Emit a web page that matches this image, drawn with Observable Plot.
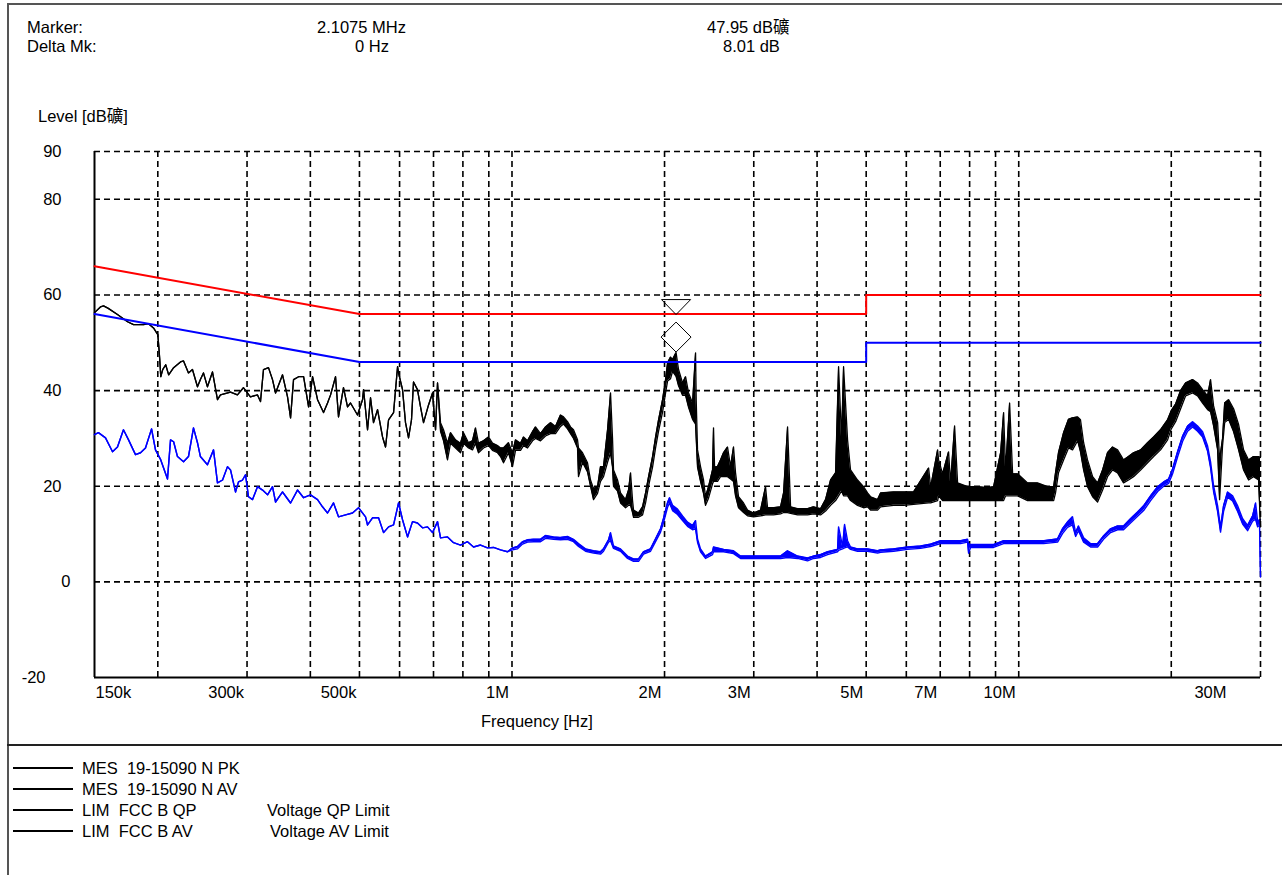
<!DOCTYPE html>
<html>
<head>
<meta charset="utf-8">
<script src="https://cdn.jsdelivr.net/npm/d3@7"></script>
<script src="https://cdn.jsdelivr.net/npm/@observablehq/plot@0.6"></script>
<style>
  body { margin: 0; background: #fff; }
  #wrap { position: relative; width: 1282px; height: 875px; overflow: hidden;
          font-family: "Liberation Sans", Arial, "Noto Sans CJK SC", sans-serif; font-size: 16.5px; color: #000; }
  .t { position: absolute; white-space: pre; line-height: 1; }
  .bar { position: absolute; }
</style>
</head>
<body>
<div id="wrap"></div>
<script>
// ---------- data (frequency in MHz, level in dBµV) ----------
const gridFreqs = [0.2,0.3,0.4,0.5,0.6,0.7,0.8,0.9,1,2,3,4,5,6,7,8,9,10,20,30];
const gridLevels = [0,20,40,60,80,90];
const xTickValues = [0.3,0.5,1,2,3,5,7,10];
const xTickLabels = ["300k","500k","1M","2M","3M","5M","7M","10M"];
const yTickValues = [90,80,60,40,20];

// FCC class B limits
const qpLimit = [[0.15,66],[0.5,56],[5,56],[5,60],[30,60]];
const avLimit = [[0.15,56],[0.5,46],[5,46],[5,50],[30,50]];

// Marker
const marker = [[2.1075, 47.95]];

// Peak trace: [freq, low, high]
const pk = [
[0.150,56.3,56.3],[0.1541,57.5,57.5],[0.1563,57.7,57.7],[0.1597,57.2,57.2],[0.1665,55.9,55.9],[0.1743,54.4,54.4],
[0.1791,53.8,53.8],[0.1875,53.8,53.8],[0.1917,54.0,54.0],[0.1961,53.1,53.1],[0.2000,51.7,51.7],[0.2009,49.2,49.2],
[0.2018,46.4,46.4],[0.2027,42.9,42.9],[0.2045,44.4,44.4],[0.2073,45.4,45.4],[0.2101,43.3,43.3],[0.2149,44.8,44.8],
[0.2217,46.0,46.0],[0.2248,46.2,46.2],[0.2299,43.7,43.7],[0.2341,44.4,44.4],[0.2395,40.8,40.8],[0.2427,42.3,42.3],
[0.2461,43.7,43.7],[0.2506,40.8,40.8],[0.2564,43.9,43.9],[0.2623,38.1,38.1],[0.2659,39.1,39.1],[0.2783,39.7,39.7],
[0.2872,39.1,39.1],[0.2951,40.6,40.6],[0.3046,38.7,38.7],[0.3146,39.1,39.1],[0.3189,37.7,37.7],[0.3233,44.4,44.4],
[0.3307,44.8,44.8],[0.3368,42.3,42.3],[0.3415,39.5,39.5],[0.3525,43.3,43.3],[0.3606,38.7,38.7],[0.3656,34.3,34.3],
[0.3706,42.3,42.3],[0.3792,42.9,42.9],[0.3879,42.9,42.9],[0.3968,36.6,36.6],[0.4040,42.9,42.9],[0.4133,38.1,38.1],
[0.4247,35.4,35.4],[0.4325,37.4,37.4],[0.4385,39.1,39.1],[0.4485,42.9,42.9],[0.4546,34.5,34.5],
[0.4650,40.6,40.6],[0.4736,36.6,36.6],[0.4801,37.4,37.4],[0.4956,34.9,34.9],[0.5070,38.1,38.1],[0.5094,40.2,40.2],
[0.5187,31.8,31.8],[0.5258,38.5,38.5],[0.5330,33.3,33.3],[0.5428,36.0,36.0],[0.5553,30.3,30.3],[0.5629,28.2,28.2],
[0.5707,33.9,33.9],[0.5838,35.4,35.4],[0.5945,45.0,45.0],[0.5972,43.7,43.7],[0.6081,40.2,40.2],[0.6164,33.3,33.3],
[0.6249,30.1,30.1],[0.6334,33.9,33.9],[0.6392,41.8,41.8],[0.6508,40.2,40.2],[0.6599,36.6,36.6],[0.6690,33.3,33.3],
[0.6844,37.0,37.0],[0.6969,39.5,39.5],[0.7065,31.8,31.8],[0.7129,41.6,41.6],
[0.7227,31.5,33.3],[0.7326,29.5,31.8],[0.7460,25.5,29.0],[0.7563,29.0,31.2],[0.7736,28.0,29.7],[0.7914,27.0,29.0],
[0.8023,29.0,31.2],[0.8207,28.0,29.1],[0.8357,27.6,29.5],[0.8472,29.0,32.2],[0.8588,27.0,29.0],[0.8786,28.0,29.5],
[0.8988,28.5,30.3],[0.9152,27.5,29.0],[0.9363,27.0,28.5],[0.9492,26.2,28.0],[0.9622,24.9,28.0],[0.9843,27.0,29.1],
[1.0023,24.1,27.0],[1.0161,27.5,29.7],[1.0395,27.5,29.0],[1.0537,28.5,30.3],[1.0731,28.0,29.5],[1.0977,29.5,31.4],
[1.1127,30.0,32.4],[1.1384,29.5,31.0],[1.1645,30.5,32.4],[1.1913,31.0,33.3],[1.2186,31.0,32.5],[1.2466,32.5,34.9],
[1.2638,33.0,34.5],[1.2870,32.0,33.5],[1.3046,31.0,32.4],[1.3225,30.0,31.8],[1.3468,28.0,29.7],[1.3529,22.0,28.0],
[1.3777,25.0,27.0],[1.4094,23.0,24.9],[1.4288,20.0,21.3],[1.4483,17.2,19.5],[1.4750,18.5,19.9],[1.4951,21.0,24.1],
[1.5158,22.0,24.1],[1.5436,25.0,31.8],[1.5648,27.0,39.5],[1.5790,24.0,30.0],[1.5862,20.0,23.4],[1.6154,19.0,21.3],
[1.6376,16.5,18.6],[1.6752,15.5,17.2],[1.6983,16.0,19.2],[1.7138,16.0,22.8],[1.7294,14.5,17.0],[1.7373,13.5,15.0],
[1.7772,13.5,14.4],[1.8099,14.0,15.7],[1.8348,16.5,18.6],[1.8600,20.0,22.0],[1.8940,24.0,26.2],[1.9201,28.0,30.3],
[1.9464,31.5,33.9],[1.9821,35.5,38.1],[2.0094,39.5,42.3],[2.0277,42.0,45.8],[2.0555,42.5,47.0],[2.0742,44.0,46.5],
[2.1075,43.0,47.95],[2.1315,41.0,44.4],[2.1706,39.0,41.6],[2.2004,39.0,42.9],[2.2306,36.5,39.5],[2.2716,34.0,37.4],
[2.3027,33.0,47.9],[2.3096,30.0,38.0],[2.3235,24.0,27.6],[2.3553,21.0,24.1],[2.3877,18.5,21.3],[2.4095,16.0,17.8],
[2.4425,17.5,19.9],[2.4873,20.5,23.4],[2.4986,21.0,32.2],[2.5105,21.0,24.0],[2.5445,21.0,24.1],[2.5794,22.0,25.5],
[2.6148,22.0,27.0],[2.6628,22.0,28.2],[2.6994,21.5,24.1],[2.7363,21.0,28.2],[2.7614,18.0,22.8],[2.7993,15.5,17.8],
[2.8638,14.5,16.5],[2.9162,13.8,15.0],[2.9972,13.6,14.4],[3.0939,13.8,15.0],[3.1650,14.0,19.9],[3.1938,14.0,15.5],
[3.2823,14.0,15.5],[3.3884,14.2,15.7],[3.4349,14.5,18.6],[3.4980,14.5,32.4],[3.5460,14.3,15.7],[3.6603,14.0,15.3],
[3.8306,14.0,15.3],[3.9364,14.2,15.7],[4.0638,14.0,15.3],[4.1572,14.8,17.2],[4.2529,16.0,21.3],[4.3510,17.0,22.8],
[4.4103,18.0,45.0],[4.4708,19.0,30.0],[4.5116,18.0,45.0],[4.5940,18.0,29.7],[4.6570,17.0,23.4],[4.8075,16.0,21.3],
[4.9402,15.5,19.9],[5.031,15.7,18.6],[5.1008,15.0,17.8],[5.2656,15.0,17.2],[5.339,15.7,18.6],[5.663,16.0,18.8],
[5.926,16.0,18.8],[6.202,16.2,18.8],[6.640,16.5,23.8],[6.701,16.5,19.8],[6.917,17.0,27.6],[6.948,18.0,25.5],
[7.076,17.0,22.6],[7.270,17.0,27.2],[7.336,17.0,20.7],[7.472,17.0,32.6],[7.574,17.0,20.7],[7.926,17.0,19.9],
[8.295,17.0,19.9],[8.681,17.0,19.7],[8.921,17.0,19.9],[9.210,17.0,27.0],[9.336,17.0,35.4],[9.421,18.0,23.4],
[9.594,18.0,37.4],[9.726,18.0,22.6],[9.950,18.0,22.6],[10.41,17.0,20.7],[10.89,17.0,20.7],[11.40,17.0,19.9],
[11.72,17.0,19.9],[11.82,18.6,22.8],[11.98,22.8,27.0],[12.26,25.5,31.2],[12.54,28.0,34.0],[12.77,27.6,34.3],
[13.07,29.5,34.5],[13.24,27.2,33.9],[13.43,23.4,29.1],[13.67,19.9,25.5],[13.99,17.8,22.0],[14.31,16.7,20.7],
[14.64,19.2,23.4],[14.97,22.0,27.0],[15.32,23.4,28.2],[15.67,22.8,27.6],[16.10,20.7,25.5],[16.47,21.3,26.2],
[16.85,22.0,27.0],[17.40,23.4,27.6],[17.96,24.9,29.1],[18.46,26.2,30.3],[19.05,27.6,31.8],[19.67,29.7,33.9],
[20.00,32.0,35.8],[20.40,33.5,37.2],[20.87,36.2,40.0],[21.35,38.9,41.6],[22.04,39.5,42.3],[22.54,38.9,41.6],
[23.06,37.4,40.2],[23.59,36.0,38.9],[23.91,35.6,42.3],[24.24,32.6,36.8],[24.69,27.6,33.3],[24.91,17.2,25.5],
[25.25,28.5,30.0],[25.49,33.3,37.4],[25.95,34.0,38.1],[26.55,31.4,36.2],[27.16,27.6,32.9],[27.78,23.4,27.6],
[28.42,21.3,25.5],[29.07,22.0,26.2],[29.74,21.3,26.2],[30.0,11.5,26.0]
];

// Average trace: [freq, low, high]
const av = [
[0.150,30.8,30.8],[0.1527,31.2,31.2],[0.1577,30.1,30.1],[0.1628,27.2,27.2],[0.1665,28.2,28.2],[0.1711,31.8,31.8],
[0.1751,29.7,29.7],[0.1807,26.6,26.6],[0.1849,27.0,27.0],[0.1891,28.0,28.0],[0.1944,32.0,32.0],[0.1979,27.6,27.6],
[0.2027,25.5,25.5],[0.2090,21.5,21.5],[0.2119,29.7,29.7],[0.2149,29.3,29.3],[0.2187,26.2,26.2],[0.2248,25.1,25.1],
[0.2299,26.2,26.2],[0.2352,32.2,32.2],[0.2395,29.1,29.1],[0.2427,26.2,26.2],[0.2506,24.5,24.5],[0.2576,27.6,27.6],
[0.2623,20.7,20.7],[0.2684,21.3,21.3],[0.2745,24.1,24.1],[0.2783,23.4,23.4],[0.2847,18.8,18.8],[0.2886,20.9,20.9],
[0.2939,21.3,21.3],[0.2979,22.4,22.4],[0.3020,17.8,17.8],[0.3076,17.2,17.2],[0.3146,19.9,19.9],[0.3219,19.2,19.2],
[0.3293,18.2,18.2],[0.3368,19.9,19.9],[0.3415,16.7,16.7],[0.3525,18.8,18.8],[0.3656,16.5,16.5],[0.3773,19.2,19.2],
[0.3879,17.6,17.6],[0.4003,18.2,18.2],[0.4133,17.2,17.2],[0.4227,15.7,15.7],[0.4325,14.4,14.4],[0.4444,16.5,16.5],
[0.4546,13.6,13.6],[0.4693,14.0,14.0],[0.4845,14.4,14.4],[0.4979,15.5,15.5],[0.5140,13.6,13.6],[0.5187,11.9,11.9],
[0.5306,13.4,13.4],[0.5453,13.4,13.4],[0.5579,10.3,10.3],[0.5707,11.5,11.5],[0.5838,11.9,11.9],[0.5972,16.5,16.5],
[0.6081,13.0,13.0],[0.6221,9.4,9.4],[0.6363,12.6,12.6],[0.6508,12.3,12.3],[0.6659,11.3,11.3],[0.6812,11.5,11.5],
[0.6969,10.3,10.3],[0.7129,12.6,12.6],[0.7227,9.2,9.2],[0.7460,9.4,9.4],[0.7667,8.2,8.2],[0.7914,7.7,7.7],
[0.8170,8.4,8.4],[0.8396,7.3,7.3],[0.8668,7.7,7.7],[0.8947,7.1,7.1],[0.9195,7.2,7.2],[0.9492,6.7,6.7],
[0.9799,6.3,6.3],[1.0023,6.7,7.1],[1.0255,6.9,7.4],[1.0490,7.9,8.4],[1.0731,8.3,8.8],[1.1027,8.4,8.9],
[1.1384,8.4,8.9],[1.1645,9.1,9.7],[1.2076,8.9,9.4],[1.2466,8.8,9.3],[1.2870,8.9,9.5],[1.3225,8.4,8.9],
[1.3529,7.4,8.0],[1.3967,6.4,6.9],[1.4483,6.0,6.5],[1.4951,5.8,6.3],[1.5158,6.4,6.9],[1.5507,8.3,8.8],
[1.5648,8.6,10.3],[1.5862,7.0,7.5],[1.6376,6.4,6.9],[1.6906,4.9,5.4],[1.7373,4.3,4.8],[1.7772,4.3,4.8],
[1.8182,5.8,6.3],[1.8768,6.4,6.9],[1.9201,8.4,9.0],[1.9640,10.4,11.1],[1.9909,12.4,13.3],[2.0277,15.6,16.6],
[2.0460,16.5,17.6],[2.0742,14.9,16.0],[2.1218,14.1,15.2],[2.1706,12.8,13.8],[2.2204,11.6,12.5],[2.2716,10.9,11.8],
[2.3027,11.1,12.8],[2.3235,8.3,9.0],[2.3553,6.3,6.9],[2.4095,4.9,5.4],[2.4873,5.7,6.3],[2.4986,6.3,7.3],
[2.6148,6.3,6.8],[2.7363,5.9,6.5],[2.8247,4.9,5.4],[2.9972,4.9,5.4],[3.1938,4.9,5.4],[3.3884,4.9,5.4],
[3.4980,5.1,6.5],[3.6603,4.9,5.4],[3.8306,4.4,5.0],[3.9364,4.9,5.4],[4.0638,5.1,5.7],[4.1953,5.7,6.3],
[4.3902,6.3,6.8],[4.4103,6.6,11.5],[4.4912,6.9,7.4],[4.532,7.1,12.0],[4.5940,7.3,8.6],[4.6570,6.8,7.3],
[4.8075,6.4,6.9],[5.031,6.4,6.9],[5.2656,6.0,6.5],[5.339,6.2,6.7],[5.663,6.4,6.9],[6.035,6.8,7.3],
[6.402,7.0,7.5],[6.701,7.4,7.9],[7.011,8.0,8.6],[7.336,8.0,8.6],[7.677,8.0,8.6],[7.926,8.3,8.9],
[7.962,6.0,8.0],[8.034,7.2,7.8],[8.409,7.2,7.8],[8.921,7.2,7.8],[9.336,8.0,8.6],[9.950,8.0,8.6],
[10.55,8.0,8.6],[11.20,8.0,8.6],[11.93,8.3,9.0],[12.20,10.1,11.1],[12.48,11.4,12.5],[12.77,11.9,13.6],
[12.95,9.5,10.3],[13.12,10.7,11.7],[13.43,8.3,9.2],[13.86,7.3,8.0],[14.31,7.3,8.0],[14.70,8.9,9.6],
[15.18,10.3,11.1],[15.67,10.9,11.7],[16.10,10.9,11.7],[16.62,12.3,13.2],[17.16,13.7,14.6],[17.64,14.9,15.9],
[18.21,17.0,18.0],[18.80,18.9,19.9],[19.32,20.0,20.9],[19.76,20.6,21.5],[20.12,22.6,23.6],[20.58,26.1,27.2],
[21.06,29.4,30.5],[21.54,31.5,32.6],[22.04,32.4,33.5],[22.54,31.5,32.6],[23.06,30.3,31.4],[23.59,27.3,28.4],
[23.91,23.9,25.1],[24.24,18.9,20.1],[24.69,14.7,15.9],[25.02,10.4,11.4],[25.36,14.7,15.9],[25.83,17.7,18.8],
[26.43,16.9,18.0],[27.04,14.7,15.9],[27.66,12.1,13.2],[28.29,10.7,11.8],[28.94,12.7,13.8],[29.34,13.1,16.5],
[29.61,11.5,12.6],[29.87,11.9,13.0],[30.0,1.0,13.0]
];

// Texts
const headerTexts = [
  ["Marker:", 27, 19], ["Delta Mk:", 27, 38],
  ["2.1075 MHz", 317, 19], ["0 Hz", 355, 38],
  ["47.95 dB礦", 707, 19], ["8.01 dB", 723, 38],
  ["Level [dB礦]", 38, 108], ["Frequency [Hz]", 481, 713]
];
const legendNames = ["MES  19-15090 N PK", "MES  19-15090 N AV", "LIM  FCC B QP", "LIM  FCC B AV"];
const legendNotes = ["", "", "Voltage QP Limit", "Voltage AV Limit"];

// ---------- custom symbols ----------
const diamondSym = { draw(ctx, size) { const r = Math.sqrt(size / Math.PI);
  ctx.moveTo(0, -r); ctx.lineTo(r, 0); ctx.lineTo(0, r); ctx.lineTo(-r, 0); ctx.closePath(); } };
const downTriSym = { draw(ctx, size) { const r = Math.sqrt(size / Math.PI);
  ctx.moveTo(-r * 0.97, -r); ctx.lineTo(r * 0.97, -r); ctx.lineTo(0, 0); ctx.closePath(); } };

const F = d => d[0];
const fontFam = '"Liberation Sans", Arial, sans-serif';

const chart = Plot.plot({
  width: 1282, height: 875,
  marginLeft: 94, marginRight: 22, marginTop: 151, marginBottom: 198,
  x: { type: "log", domain: [0.15, 30], axis: null },
  y: { domain: [-20, 90], axis: null },
  style: { background: "transparent", fontFamily: fontFam, fontSize: "16.5px", color: "#000" },
  marks: [
    Plot.ruleX(gridFreqs, { x: d => d, stroke: "#000", strokeWidth: 1.6, strokeDasharray: "6,4" }),
    Plot.ruleY(gridLevels, { y: d => d, stroke: "#000", strokeWidth: 1.6, strokeDasharray: "6,4" }),
    Plot.ruleX([0.15], { x: d => d, stroke: "#000", strokeWidth: 2 }),
    Plot.ruleY([-20], { y: d => d, stroke: "#000", strokeWidth: 2 }),
    // average trace
    Plot.areaY(av, { x: F, y1: d => d[1], y2: d => d[2], fill: "#0000ff" }),
    Plot.line(av, { x: F, y: d => d[1], stroke: "#0000ff", strokeWidth: 1.4 }),
    Plot.line(av, { x: F, y: d => d[2], stroke: "#0000ff", strokeWidth: 1.4 }),
    // peak trace
    Plot.areaY(pk, { x: F, y1: d => d[1], y2: d => d[2], fill: "#000" }),
    Plot.line(pk, { x: F, y: d => d[1], stroke: "#000", strokeWidth: 1.3 }),
    Plot.line(pk, { x: F, y: d => d[2], stroke: "#000", strokeWidth: 1.3 }),
    // limits
    Plot.line(qpLimit, { x: F, y: d => d[1], stroke: "#ff0000", strokeWidth: 2 }),
    Plot.line(avLimit, { x: F, y: d => d[1], stroke: "#0000ff", strokeWidth: 2 }),
    // marker symbols
    Plot.dot(marker, { x: F, y: d => d[1], symbol: diamondSym, r: 15, dy: -15.5, stroke: "#000", strokeWidth: 1, fill: "none" }),
    Plot.dot(marker, { x: F, y: d => d[1], symbol: downTriSym, r: 15, dy: -38, stroke: "#000", strokeWidth: 1, fill: "none" }),
    // x tick labels
    Plot.text(xTickValues, { x: d => d, text: (d, i) => xTickLabels[i], frameAnchor: "bottom", dy: 20, textAnchor: "end", dx: -3, fontSize: 16.5, fill: "#000" }),
    Plot.text([0.15], { x: d => d, text: () => "150k", frameAnchor: "bottom", dy: 20, textAnchor: "start", dx: 1, fontSize: 16.5, fill: "#000" }),
    Plot.text([30], { x: d => d, text: () => "30M", frameAnchor: "bottom", dy: 20, textAnchor: "end", dx: -34, fontSize: 16.5, fill: "#000" }),
    // y tick labels
    Plot.text(yTickValues, { y: d => d, text: d => String(d), frameAnchor: "left", textAnchor: "end", dx: -33, fontSize: 16.5, fill: "#000" }),
    Plot.text([0], { y: d => d, text: d => String(d), frameAnchor: "left", textAnchor: "end", dx: -24, fontSize: 16.5, fill: "#000" }),
    Plot.text([-20], { y: d => d, text: d => String(d), frameAnchor: "left", textAnchor: "end", dx: -49, fontSize: 16.5, fill: "#000" })
  ]
});

const wrap = document.getElementById("wrap");
chart.style.position = "absolute";
chart.style.left = "0px";
chart.style.top = "0px";
wrap.appendChild(chart);

function addDiv(cls, css, text) {
  const el = document.createElement("div");
  el.className = cls;
  el.style.cssText = css;
  if (text !== undefined) el.textContent = text;
  wrap.appendChild(el);
  return el;
}
// frame
addDiv("bar", "left:7px;top:3px;right:0;height:2px;background:#555;");
addDiv("bar", "left:7px;top:3px;bottom:0;width:2px;background:#555;");
addDiv("bar", "left:7px;top:744px;right:0;height:2px;background:#222;");

headerTexts.forEach(([s, x, y]) => addDiv("t", `left:${x}px;top:${y}px;`, s));

const legendRows = [768, 789, 810, 831];
const noteLeft = [0, 0, 267, 270];
legendNames.forEach((s, i) => {
  const cy = legendRows[i];
  addDiv("bar", `left:13px;top:${cy - 1}px;width:60px;height:1.5px;background:#000;`);
  addDiv("t", `left:82px;top:${cy - 8}px;`, s);
  if (legendNotes[i]) addDiv("t", `left:${noteLeft[i]}px;top:${cy - 8}px;`, legendNotes[i]);
});
</script>
</body>
</html>
